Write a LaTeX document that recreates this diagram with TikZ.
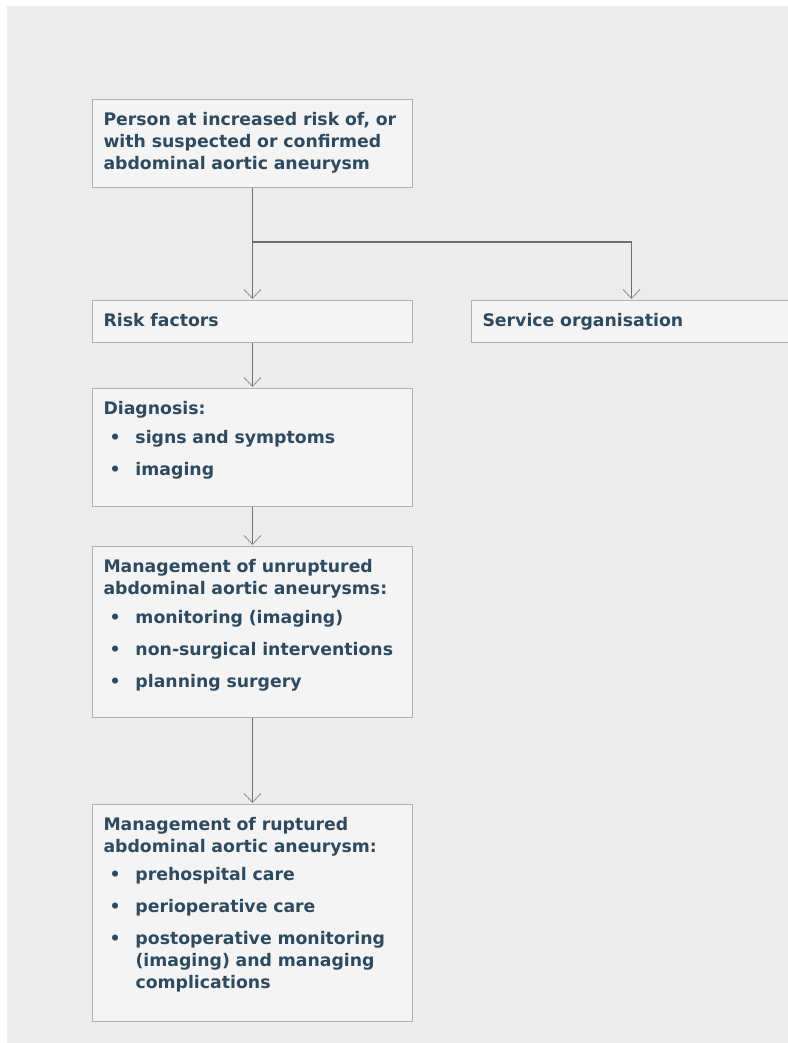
\documentclass[tikz,border=0pt]{standalone}
\usepackage{fontspec}
\setmainfont{DejaVu Sans}
\usetikzlibrary{arrows.meta,positioning}

\definecolor{pagegray}{HTML}{ECECEC}
\definecolor{boxfill}{HTML}{F4F4F4}
\definecolor{boxline}{HTML}{A7B1B9}
\definecolor{boxtext}{HTML}{2D4A5F}
\definecolor{flowgray}{HTML}{6E6E6E}
\definecolor{tipgray}{HTML}{8C8C8C}

% bullet line, wrapped text kept under the first word
\newcommand{\bitem}[2][10pt]{\par\vspace{#1}\noindent
  \makebox[32pt][l]{\hspace{6pt}\textbullet}%
  \parbox[t]{266pt}{\raggedright\hyphenpenalty=10000 #2}}

\begin{document}
\begin{tikzpicture}[x=1pt,y=-1pt,->,>={Straight Barb[length=9pt,width=17pt,line width=0.8pt,color=tipgray]},
  shorten >=1pt,line width=1.2pt,draw=flowgray,
  box node/.style={rectangle,draw=boxline,line width=1pt,fill=boxfill,text=boxtext,
    font=\bfseries\fontsize{17.3}{22}\selectfont,text width=298pt,align=left,
    inner xsep=11pt,inner ysep=0pt,text height=26pt}]

  \useasboundingbox (0,0) rectangle (787,1043);
  \fill[pagegray] (7,6) rectangle (790,1046);

  \node[box node,anchor=north west,text depth=62pt] (1) at (92,99)
    {Person at increased risk of, or\\with suspected or confirmed\\abdominal aortic aneurysm};
  \node[box node,text depth=16pt] (2) [below=112pt of 1] {Risk factors};
  \node[box node,text depth=16pt] (6) [right=58pt of 2] {Service organisation};
  \node[box node,text depth=92pt] (3) [below=45pt of 2]
    {Diagnosis:\bitem[7pt]{signs and symptoms}\bitem{imaging}};
  \node[box node,text depth=145pt] (4) [below=39pt of 3]
    {Management of unruptured\\abdominal aortic aneurysms:\bitem[7pt]{monitoring (imaging)}%
     \bitem{non-surgical interventions}\bitem{planning surgery}};
  \node[box node,text depth=191pt] (5) [below=86pt of 4]
    {Management of ruptured\\abdominal aortic aneurysm:\bitem[6pt]{prehospital care}%
     \bitem{perioperative care}\bitem{postoperative monitoring (imaging) and managing complications}};

  \coordinate[below=54pt of 1.south] (split);

  \path
    (1) edge (2)
    (split) edge[to path={-| (\tikztotarget)}] (6)
    (2) edge (3)
    (3) edge (4)
    (4) edge (5)
    ;

\end{tikzpicture}
\end{document}
